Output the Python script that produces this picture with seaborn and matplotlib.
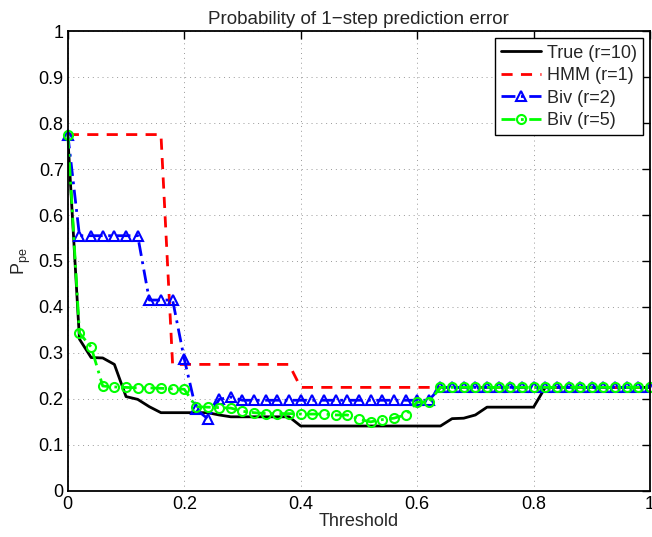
import matplotlib
matplotlib.use("Agg")
import matplotlib.pyplot as plt
import seaborn as sns
import pandas as pd

thresholds = [0.00, 0.02, 0.04, 0.06, 0.08, 0.10, 0.12, 0.14, 0.16, 0.18,
              0.20, 0.22, 0.24, 0.26, 0.28, 0.30, 0.32, 0.34, 0.36, 0.38,
              0.40, 0.42, 0.44, 0.46, 0.48, 0.50, 0.52, 0.54, 0.56, 0.58,
              0.60, 0.62, 0.64, 0.66, 0.68, 0.70, 0.72, 0.74, 0.76, 0.78,
              0.80, 0.82, 0.84, 0.86, 0.88, 0.90, 0.92, 0.94, 0.96, 0.98, 1.00]

true_r10 = [0.770, 0.330, 0.290, 0.289, 0.275, 0.205, 0.199, 0.183, 0.170, 0.170,
            0.170, 0.170, 0.170, 0.165, 0.161, 0.161, 0.161, 0.161, 0.161, 0.161,
            0.141, 0.141, 0.141, 0.141, 0.141, 0.141, 0.141, 0.141, 0.141, 0.141,
            0.141, 0.141, 0.141, 0.157, 0.158, 0.165, 0.182, 0.182, 0.182, 0.182,
            0.182, 0.225, 0.225, 0.225, 0.225, 0.225, 0.225, 0.225, 0.225, 0.225, 0.225]

hmm_r1 = [0.775, 0.775, 0.775, 0.775, 0.775, 0.775, 0.775, 0.775, 0.775, 0.275,
          0.275, 0.275, 0.275, 0.275, 0.275, 0.275, 0.275, 0.275, 0.275, 0.275,
          0.225, 0.225, 0.225, 0.225, 0.225, 0.225, 0.225, 0.225, 0.225, 0.225,
          0.225, 0.225, 0.225, 0.225, 0.225, 0.225, 0.225, 0.225, 0.225, 0.225,
          0.225, 0.225, 0.225, 0.225, 0.225, 0.225, 0.225, 0.225, 0.225, 0.225, 0.225]

biv_r2 = [0.775, 0.555, 0.555, 0.555, 0.555, 0.555, 0.555, 0.415, 0.415, 0.415,
          0.287, 0.178, 0.157, 0.199, 0.204, 0.197, 0.197, 0.197, 0.197, 0.197,
          0.197, 0.197, 0.197, 0.197, 0.197, 0.197, 0.197, 0.197, 0.197, 0.197,
          0.197, 0.197, 0.225, 0.225, 0.225, 0.225, 0.225, 0.225, 0.225, 0.225,
          0.225, 0.225, 0.225, 0.225, 0.225, 0.225, 0.225, 0.225, 0.225, 0.225, 0.225]

biv_r5 = [0.775, 0.343, 0.313, 0.228, 0.226, 0.225, 0.224, 0.224, 0.223, 0.222,
          0.221, 0.183, 0.182, 0.181, 0.180, 0.173, 0.170, 0.168, 0.168, 0.168,
          0.167, 0.167, 0.167, 0.165, 0.165, 0.156, 0.150, 0.155, 0.158, 0.165,
          0.193, 0.193, 0.225, 0.225, 0.225, 0.225, 0.225, 0.225, 0.225, 0.225,
          0.225, 0.225, 0.225, 0.225, 0.225, 0.225, 0.225, 0.225, 0.225, 0.225, 0.225]

series_labels = ["True (r=10)", "HMM (r=1)", "Biv (r=2)", "Biv (r=5)"]

sns.set_style("white")
plt.rcParams["font.family"] = ["Liberation Sans", "DejaVu Sans"]
plt.rcParams["font.size"] = 10
plt.rcParams["mathtext.fontset"] = "custom"
plt.rcParams["mathtext.rm"] = "Liberation Sans"
plt.rcParams["mathtext.it"] = "Liberation Sans"

fig = plt.figure(figsize=(6.52, 5.37), dpi=100)
ax = fig.add_axes([0.104, 0.086, 0.893, 0.856])

df = pd.DataFrame({"x": thresholds, "true": true_r10, "hmm": hmm_r1,
                   "b2": biv_r2, "b5": biv_r5})

sns.lineplot(data=df, x="x", y="true", ax=ax, color="black", linewidth=2,
             linestyle="-", label=series_labels[0], estimator=None, sort=False)
sns.lineplot(data=df, x="x", y="hmm", ax=ax, color="red", linewidth=2,
             linestyle=(0, (4, 3)), label=series_labels[1], estimator=None, sort=False)
sns.lineplot(data=df, x="x", y="b2", ax=ax, color="blue", linewidth=2,
             linestyle=(0, (5, 2, 1, 2)), marker="^", markersize=7,
             markerfacecolor="none", markeredgecolor="blue", markeredgewidth=1.5,
             label=series_labels[2], estimator=None, sort=False, clip_on=False)
sns.lineplot(data=df, x="x", y="b5", ax=ax, color="#00ff00", linewidth=2,
             linestyle=(0, (5, 2, 1, 2)), marker="o", markersize=6.5,
             markerfacecolor="none", markeredgecolor="#00ff00", markeredgewidth=1.5,
             label=series_labels[3], estimator=None, sort=False, clip_on=False)

ax.set_xlim(0, 1)
ax.set_ylim(0, 1)
ax.set_xticks([0, 0.2, 0.4, 0.6, 0.8, 1])
ax.set_xticklabels(["0", "0.2", "0.4", "0.6", "0.8", "1"])
ax.set_yticks([0, 0.1, 0.2, 0.3, 0.4, 0.5, 0.6, 0.7, 0.8, 0.9, 1])
ax.set_yticklabels(["0", "0.1", "0.2", "0.3", "0.4", "0.5", "0.6", "0.7", "0.8", "0.9", "1"])
ax.tick_params(direction="in", length=6, width=1, top=True, right=True,
               labelsize=13, colors="black", pad=3)
ax.tick_params(axis="x", pad=4)
ax.grid(True, linestyle=(0, (1, 4)), color="#555555", linewidth=0.7, alpha=0.6)
for s in ax.spines.values():
    s.set_color("black")
    s.set_linewidth(1.3)
    s.set_visible(True)

ax.set_title("Probability of 1\u2212step prediction error", fontsize=13.5, pad=5)
ax.set_xlabel("Threshold", fontsize=13, labelpad=0)
ax.set_ylabel("P$_{pe}$", fontsize=13, labelpad=4)

leg = ax.legend(loc="upper right", fontsize=13, frameon=True, fancybox=False,
                edgecolor="black", framealpha=1, handlelength=2.2,
                borderpad=0.35, labelspacing=0.3, handletextpad=0.3,
                borderaxespad=0.4)
leg.get_frame().set_linewidth(1)

fig.savefig("out.png", dpi=100)
